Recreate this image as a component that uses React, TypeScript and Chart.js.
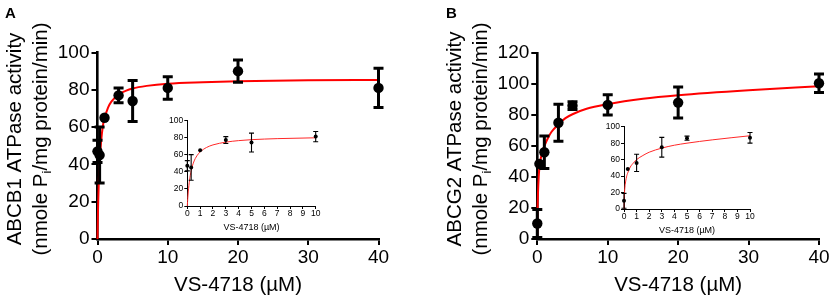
import React, { useEffect, useRef } from 'react';
import { Chart, registerables } from 'chart.js';

Chart.register(...registerables);

const FONT = "'Liberation Sans', Arial, Helvetica, sans-serif";
const W = 832;
const H = 301;

// VS-4718 concentrations (µM)
const conc = [0, 0.3, 1, 3, 5, 10, 20, 40];
// ABCB1 ATPase activity (mean, error)
const abcb1Mean = [47, 45, 65, 77, 74, 81, 90, 81];
const abcb1Err = [6, 15, 0, 4, 11, 6, 6, 10.5];
// ABCG2 ATPase activity (mean, error)
const abcg2Mean = [10, 48.5, 56, 75, 86, 86.5, 88, 100.5];
const abcg2Err = [9, 0, 10.5, 12, 2.5, 6.5, 10, 6];

// fitted curves
const fitX = [0, 0.02, 0.05, 0.1, 0.2, 0.3, 0.5, 0.75, 1, 1.5, 2, 3, 4, 5, 7, 10, 15, 20, 30, 40];
const abcb1Fit = [0, 4.9, 11.3, 20, 32.5, 41, 51.8, 60.3, 64.7, 70.5, 73.8, 77.5, 79.4, 80.7, 82.1, 83.3, 84.1, 84.6, 85.1, 85.3];
const abcg2Fit = [0, 14, 22, 30, 40, 46, 52, 57, 60, 65, 69, 74, 78, 80.5, 84, 87, 90.5, 92.8, 96, 98.5];
const insetFitX = [0, 0.02, 0.05, 0.1, 0.2, 0.3, 0.5, 0.75, 1, 1.5, 2, 3, 4, 5, 7, 10];
const abcb1InsetFit = [0, 5.1, 11.7, 20.5, 32.8, 41, 51.3, 58.6, 63.1, 68.3, 71.3, 74.5, 76.3, 77.4, 78.6, 79.6];
const abcg2InsetFit = [0, 14, 22, 30, 39, 44, 51, 56, 60, 65, 69, 74, 77.5, 80, 84, 89];

const xTitle = 'VS-4718 (µM)';

type Area = { l: number; t: number; r: number; b: number };
type Spec = {
  area: Area;
  inset: boolean;
  xMax: number;
  xStep: number;
  yMax: number;
  yStep: number;
  xs: number[];
  ys: number[];
  errs: number[];
  fx: number[];
  fy: number[];
  yTitle?: string;
  letter?: string;
  letterX?: number;
};

function buildConfig(s: Spec): any {
  const inset = s.inset;
  const yW = inset ? 30 : 60;
  const xH = inset ? 30 : 55;
  const tickFont = inset ? 8.5 : 19;
  const titleFont = inset ? 9 : 20.5;
  const axisW = inset ? 1 : 2.6;
  const tickLen = inset ? 3 : 6;
  const a = s.area;

  const errorPlugin = {
    id: 'errorBars' + Math.random(),
    afterDatasetsDraw(chart: any) {
      const xS = chart.scales.x;
      const yS = chart.scales.y;
      const ctx = chart.ctx;
      const cap = inset ? 2.5 : 5;
      ctx.save();
      ctx.strokeStyle = '#000';
      ctx.lineWidth = inset ? 1.1 : 3;
      s.xs.forEach((x, i) => {
        const e = s.errs[i];
        if (!e) return;
        const px = xS.getPixelForValue(x);
        const pt = yS.getPixelForValue(s.ys[i] + e);
        const pb = yS.getPixelForValue(s.ys[i] - e);
        ctx.beginPath();
        ctx.moveTo(px, pt);
        ctx.lineTo(px, pb);
        ctx.moveTo(px - cap, pt);
        ctx.lineTo(px + cap, pt);
        ctx.moveTo(px - cap, pb);
        ctx.lineTo(px + cap, pb);
        ctx.stroke();
      });
      ctx.restore();
    },
  };

  const titlePlugin = {
    id: 'titles' + Math.random(),
    afterDraw(chart: any) {
      const ctx = chart.ctx;
      const ca = chart.chartArea;
      ctx.save();
      ctx.fillStyle = '#000';
      // x title
      ctx.font = `${titleFont}px ${FONT}`;
      ctx.textAlign = 'center';
      ctx.textBaseline = 'middle';
      const xc = (ca.left + ca.right) / 2;
      ctx.fillText(xTitle, xc, inset ? ca.bottom + 22 : 285);
      if (s.yTitle) {
        const cy = 139;
        ctx.save();
        ctx.translate(ca.left - 82, cy);
        ctx.rotate(-Math.PI / 2);
        ctx.textAlign = 'center';
        ctx.textBaseline = 'middle';
        ctx.fillText(s.yTitle, 0, 0);
        ctx.restore();
        // second line with subscript
        ctx.save();
        ctx.translate(ca.left - 56, cy);
        ctx.rotate(-Math.PI / 2);
        ctx.textBaseline = 'middle';
        ctx.textAlign = 'left';
        const p1 = '(nmole P';
        const p2 = 'i';
        const p3 = '/mg protein/min)';
        const big = `${titleFont}px ${FONT}`;
        const small = `${Math.round(titleFont * 0.65)}px ${FONT}`;
        ctx.font = big;
        const w1 = ctx.measureText(p1).width;
        const w3 = ctx.measureText(p3).width;
        ctx.font = small;
        const w2 = ctx.measureText(p2).width;
        const total = w1 + w2 + w3;
        let x0 = -total / 2;
        ctx.font = big;
        ctx.fillText(p1, x0, 0);
        x0 += w1;
        ctx.font = small;
        ctx.fillText(p2, x0, titleFont * 0.3);
        x0 += w2;
        ctx.font = big;
        ctx.fillText(p3, x0, 0);
        ctx.restore();
      }
      if (s.letter) {
        ctx.font = `bold 15px ${FONT}`;
        ctx.textAlign = 'left';
        ctx.textBaseline = 'alphabetic';
        ctx.fillText(s.letter, s.letterX || 0, 18);
      }
      ctx.restore();
    },
  };

  const grid = {
    display: true,
    drawOnChartArea: false,
    drawTicks: true,
    tickLength: tickLen,
    tickWidth: inset ? 1 : 2,
    tickColor: '#000',
    lineWidth: inset ? 1 : 2,
    color: '#000',
  };

  return {
    type: 'scatter',
    data: {
      datasets: [
        {
          data: s.xs.map((x, i) => ({ x, y: s.ys[i] })),
          pointRadius: inset ? 2 : 5.2,
          pointBackgroundColor: '#000',
          pointBorderWidth: 0,
          showLine: false,
          clip: false,
        },
        {
          data: s.fx.map((x, i) => ({ x, y: s.fy[i] })),
          showLine: true,
          pointRadius: 0,
          borderColor: inset ? 'rgba(255,40,40,1)' : 'rgb(255,0,0)',
          borderWidth: inset ? 1 : 2,
          cubicInterpolationMode: 'monotone',
          clip: false,
        },
      ],
    },
    options: {
      responsive: false,
      animation: false,
      events: [],
      devicePixelRatio: 1,
      layout: {
        padding: {
          left: a.l - yW,
          top: a.t,
          right: W - a.r,
          bottom: H - a.b - xH,
        },
      },
      plugins: { legend: { display: false }, tooltip: { enabled: false } },
      scales: {
        x: {
          type: 'linear',
          min: 0,
          max: s.xMax,
          ticks: {
            stepSize: s.xStep,
            color: '#000',
            font: { size: tickFont, family: FONT },
            padding: inset ? 0 : 1,
            maxRotation: 0,
            autoSkip: false,
          },
          grid,
          border: { display: true, color: '#000', width: axisW },
          afterFit: (sc: any) => {
            sc.height = xH;
            sc.paddingLeft = 0;
            sc.paddingRight = 0;
          },
        },
        y: {
          type: 'linear',
          min: 0,
          max: s.yMax,
          ticks: {
            stepSize: s.yStep,
            color: '#000',
            font: { size: tickFont, family: FONT },
            padding: inset ? 1 : 2,
            autoSkip: false,
          },
          grid,
          border: { display: true, color: '#000', width: axisW },
          afterFit: (sc: any) => {
            sc.width = yW;
            sc.paddingTop = 0;
            sc.paddingBottom = 0;
          },
        },
      },
    },
    plugins: [errorPlugin, titlePlugin],
  };
}

const upTo10 = (arr: number[]) => arr.filter((_, i) => conc[i] <= 10);

const specs: Spec[] = [
  {
    area: { l: 97.5, t: 52.5, r: 378.5, b: 239 },
    inset: false,
    xMax: 40,
    xStep: 10,
    yMax: 100,
    yStep: 20,
    xs: conc,
    ys: abcb1Mean,
    errs: abcb1Err,
    fx: fitX,
    fy: abcb1Fit,
    yTitle: 'ABCB1 ATPase activity',
    letter: 'A',
    letterX: 5,
  },
  {
    area: { l: 187.3, t: 120.3, r: 315.7, b: 206 },
    inset: true,
    xMax: 10,
    xStep: 1,
    yMax: 100,
    yStep: 20,
    xs: upTo10(conc),
    ys: upTo10(abcb1Mean),
    errs: upTo10(abcb1Err),
    fx: insetFitX,
    fy: abcb1InsetFit,
  },
  {
    area: { l: 537.3, t: 53, r: 819, b: 239 },
    inset: false,
    xMax: 40,
    xStep: 10,
    yMax: 120,
    yStep: 20,
    xs: conc,
    ys: abcg2Mean,
    errs: abcg2Err,
    fx: fitX,
    fy: abcg2Fit,
    yTitle: 'ABCG2 ATPase activity',
    letter: 'B',
    letterX: 446,
  },
  {
    area: { l: 624, t: 126.7, r: 750, b: 209 },
    inset: true,
    xMax: 10,
    xStep: 1,
    yMax: 100,
    yStep: 20,
    xs: upTo10(conc),
    ys: upTo10(abcg2Mean),
    errs: upTo10(abcg2Err),
    fx: insetFitX,
    fy: abcg2InsetFit,
  },
];

function Panel({ spec }: { spec: Spec }) {
  const ref = useRef<HTMLCanvasElement | null>(null);
  useEffect(() => {
    if (!ref.current) return;
    const chart = new Chart(ref.current, buildConfig(spec));
    return () => chart.destroy();
  }, [spec]);
  return (
    <canvas
      ref={ref}
      width={W}
      height={H}
      style={{ position: 'absolute', left: 0, top: 0, width: W, height: H }}
    />
  );
}

export default function App() {
  return (
    <div style={{ position: 'absolute', left: 0, top: 0, width: W, height: H, background: '#fff' }}>
      {specs.map((s, i) => (
        <Panel key={i} spec={s} />
      ))}
    </div>
  );
}
